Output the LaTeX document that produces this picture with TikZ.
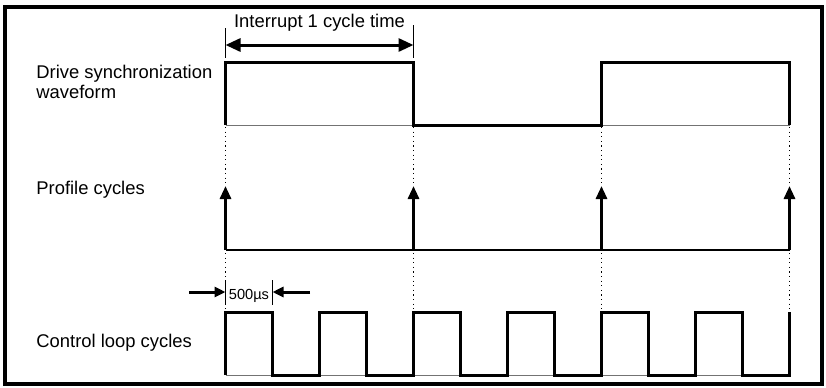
\documentclass[tikz,border=0pt]{standalone}
\usepackage{fontspec}
\setmainfont{Liberation Sans}
\usetikzlibrary{arrows.meta}

\begin{document}
\begin{tikzpicture}[x=0.5pt,y=-0.5pt,
  wave/.style={line width=1.5pt,line join=miter},
  ground/.style={line width=0.5pt,black!55},
  guide/.style={line width=0.5pt,dash pattern=on 0.6pt off 1.7pt},
  tick/.style={line width=0.5pt},
  pulse/.style={line width=1.5pt,-{Triangle[length=6.5pt,width=5.5pt]}},
  dim/.style={line width=1.5pt,{Triangle[length=7.5pt,width=6.5pt]}-{Triangle[length=7.5pt,width=6.5pt]}},
  pinch/.style={line width=1.5pt,-{Triangle[length=5.5pt,width=5pt]}},
  lbl/.style={anchor=base west,inner sep=0pt,align=left,font=\fontsize{9.2}{8.2}\selectfont}]
  \useasboundingbox (0,0) rectangle (826,387);
  \draw[line width=1.6pt] (5,7) rectangle (822,384);
  % labels
  \node[lbl] (sync) at (36,98) {Drive synchronization\\waveform};
  \node[lbl] (prof) at (36,194) {Profile cycles};
  \node[lbl] (ctrl) at (36,347) {Control loop cycles};
  % interrupt cycle time
  \coordinate (i1) at (225.5,45);
  \coordinate (i2) at (413.5,45);
  \draw[tick] (225.5,28) -- (225.5,58) (413.5,25) -- (413.5,58);
  \draw[dim] (i1) -- (i2);
  \node[lbl,anchor=base] (itime) at (319.5,27) {Interrupt 1 cycle time};
  % sync waveform
  \draw[ground] (225.5,125) -- (413.5,125) (601.5,125) -- (789.5,125);
  \draw[wave] (225.5,125) -- (225.5,62) -| (413.5,125) -- (601.5,125) |- (789.5,62) -- (789.5,125);
  % profile cycles
  \draw[line width=0.7pt] (225.5,250) -- (789.5,250);
  \foreach \x in {225.5,413.5,601.5,789.5} {
    \draw[guide] (\x,127) -- (\x,187) (\x,253) -- (\x,311);
    \draw[pulse] (\x,250) -- (\x,186);
  }
  % 500us
  \coordinate (a1) at (225.5,292);
  \coordinate (a2) at (272.5,292);
  \draw[tick] (225.5,280) -- (225.5,305) (272.5,280) -- (272.5,305);
  \draw[pinch] (189,292) -- (a1);
  \draw[pinch] (310,292) -- (a2);
  \node[lbl,anchor=base,font=\fontsize{7.3}{8}\selectfont] (us) at (249,299) {500µs};
  % control loop cycles
  \foreach \k in {0,...,5}
    \draw[ground] (225.5+94*\k,375) -- ++(47,0);
  \draw[wave] (225.5,375) \foreach \k in {0,...,5} { -- ++(0,-63) -- ++(47,0) -- ++(0,63) -- ++(47,0) } -- ++(0,-63);
\end{tikzpicture}
\end{document}
